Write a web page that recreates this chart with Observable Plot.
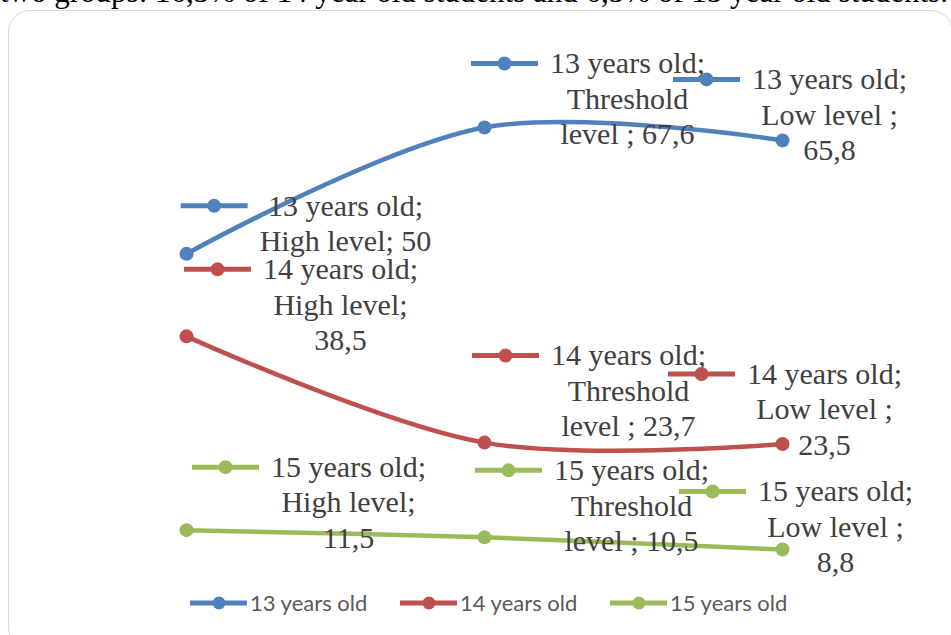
<!DOCTYPE html>
<html>
<head>
<meta charset="utf-8">
<script src="https://cdn.jsdelivr.net/npm/d3@7"></script>
<script src="https://cdn.jsdelivr.net/npm/@observablehq/plot@0.6"></script>
<style>
html, body { margin: 0; padding: 0; background: #fff; }
#wrap { position: relative; width: 951px; height: 635px; overflow: hidden; }
#top { position: absolute; left: 0px; top: -24px; font: 31px "Liberation Serif", serif; line-height: 31px; white-space: nowrap; color: #000; }
#frame { position: absolute; left: 8px; top: 10px; width: 945px; height: 640px; border: 1.5px solid #d9d9d9; border-radius: 22px; box-sizing: border-box; }
#chart { position: absolute; left: 0; top: 0; }
#legend { position: absolute; left: 190px; top: 589px; display: flex; font: 22px Lato, sans-serif; color: #595959; }
#legend .item { display: flex; align-items: center; width: 210px; }
#legend svg { margin-right: 3px; }
svg text { white-space: pre; }
</style>
</head>
<body>
<div id="wrap">
  <div id="top">two groups: 16,3% of 14 year old students and 6,3% of 15 year old students.</div>
  <div id="frame"></div>
  <div id="chart"></div>
  <div id="legend"></div>
</div>
<script>
// ---- data ----
const levels = ["High level", "Threshold level ", "Low level "];
const series = ["13 years old", "14 years old", "15 years old"];
const values13 = [50, 67.6, 65.8];
const values14 = [38.5, 23.7, 23.5];
const values15 = [11.5, 10.5, 8.8];
const colors = ["#4F81BD", "#C0504D", "#9BBB59"];

// ---- layout: label offsets from their point (label centre x, first-line centre y) ----
const labelDx = [[159, 143, 47], [154, 144, 42], [162, 147, 53]];
const labelDy = [[-48, -64, -61], [-67, -87, -70], [-63, -67, -58]];

const fs = 30, lh = 1.18, wrapWidth = 179.5;
const ctx = document.createElement("canvas").getContext("2d");
ctx.font = `${fs}px "Liberation Serif"`;
function wrap(text) {
  const words = text.split(" ");
  const lines = [];
  let cur = "";
  for (const w of words) {
    const t = cur ? cur + " " + w : w;
    if (cur && ctx.measureText(t).width > wrapWidth) { lines.push(cur); cur = w; }
    else cur = t;
  }
  if (cur) lines.push(cur);
  return lines;
}
const fmt = v => String(v).replace(".", ",");

const allValues = [values13, values14, values15];
const data = [];
series.forEach((s, si) => levels.forEach((l, li) => data.push({series: s, level: l, value: allValues[si][li], si, li})));

const keySymbol = {
  draw(c) {
    c.moveTo(-33.5, -2.5); c.lineTo(33.5, -2.5); c.lineTo(33.5, 2.5); c.lineTo(-33.5, 2.5); c.closePath();
    c.moveTo(7, 0); c.arc(0, 0, 7, 0, 2 * Math.PI); c.closePath();
  }
};

const marks = [
  Plot.line(data, {x: "level", y: "value", z: "series", stroke: "series", strokeWidth: 4.5, curve: "catmull-rom"}),
  Plot.dot(data, {x: "level", y: "value", fill: "series", r: 7})
];

for (const d of data) {
  const lines = wrap(`${d.series}; ${d.level}; ${fmt(d.value)}`);
  const w = Math.max(...lines.map(t => ctx.measureText(t).width));
  const dx = labelDx[d.si][d.li], dyc = labelDy[d.si][d.li];
  const label = lines.join("\n");
  marks.push(Plot.dot([d], {x: "level", y: "value", symbol: keySymbol, r: 5, fill: "series", stroke: "none", dx: dx - w / 2 - 12 - 33.5, dy: dyc}));
  marks.push(Plot.text([d], {x: "level", y: "value", text: () => label, dx, dy: dyc - (0.71 * lh - 0.33) * fs,
    lineAnchor: "top", lineHeight: lh, fontSize: fs, fontFamily: "Liberation Serif", fill: "#404040", textAnchor: "middle"}));
}

const chart = Plot.plot({
  width: 951,
  height: 635,
  margin: 0,
  x: {type: "point", domain: levels, range: [186, 782], padding: 0, axis: null},
  y: {domain: [0, 80], range: [612.2, 38], axis: null},
  color: {domain: series, range: colors},
  style: {background: "transparent", overflow: "visible"},
  marks
});
document.getElementById("chart").appendChild(chart);

// legend
const legend = document.getElementById("legend");
series.forEach((s, i) => {
  const item = document.createElement("div");
  item.className = "item";
  item.innerHTML = `<svg width="57" height="16"><line x1="0" x2="57" y1="8" y2="8" stroke="${colors[i]}" stroke-width="5"/><circle cx="29" cy="8" r="6.5" fill="${colors[i]}"/></svg><span>${s}</span>`;
  legend.appendChild(item);
});
</script>
</body>
</html>
